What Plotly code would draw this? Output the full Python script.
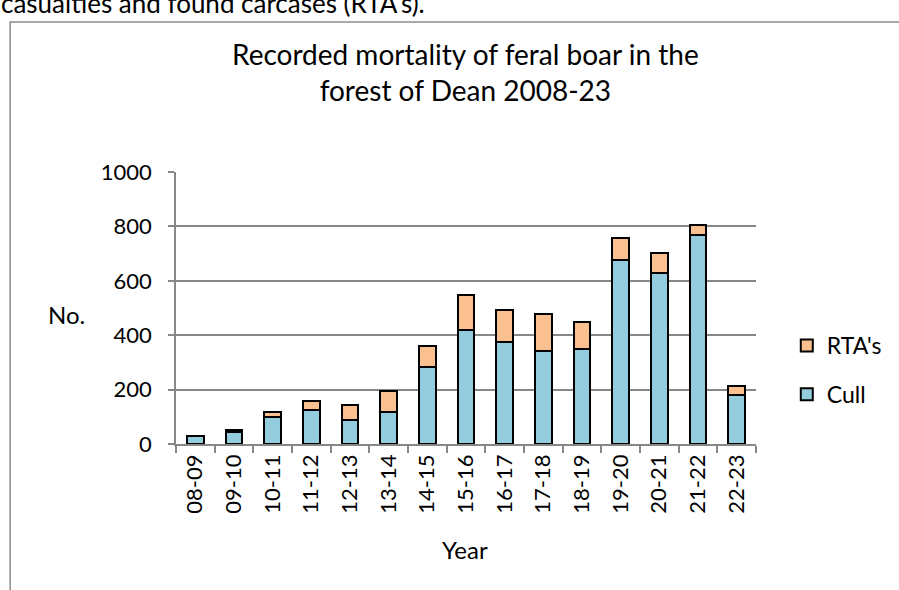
import plotly.graph_objects as go

# Season labels and recorded counts
years = ["08-09", "09-10", "10-11", "11-12", "12-13", "13-14", "14-15", "15-16",
         "16-17", "17-18", "18-19", "19-20", "20-21", "21-22", "22-23"]
cull = [28, 44, 98, 126, 87, 119, 283, 420, 375, 341, 351, 675, 630, 767, 179]
rtas = [3, 9, 18, 31, 55, 77, 79, 128, 117, 136, 99, 82, 72, 37, 34]

y_ticks = [0, 200, 400, 600, 800, 1000]

W, H = 899, 590
L, R, T, B = 176, 760, 172, 444  # plot area in pixels
FONT = "Lato, Carlito, Calibri, sans-serif"


def px(x):
    return (x - L) / (R - L)


def py(y):
    return (B - y) / (B - T)


fig = go.Figure()
fig.add_trace(go.Bar(
    x=years, y=cull, name="Cull",
    marker=dict(color="#93CDDD", line=dict(color="black", width=2)),
    legendgroup="cull", legendrank=2,
))
fig.add_trace(go.Bar(
    x=years, y=rtas, name="RTA's",
    marker=dict(color="#FAC090", line=dict(color="black", width=2)),
    legendgroup="rta", legendrank=1,
))

fig.update_layout(
    width=W, height=H,
    margin=dict(l=L, r=W - R, t=T, b=H - B),
    barmode="stack", bargap=0.57,
    paper_bgcolor="white", plot_bgcolor="white",
    font=dict(family=FONT, color="black", size=22),
    showlegend=True,
    legend=dict(
        x=px(791), y=py(324), xanchor="left", yanchor="top",
        traceorder="grouped", tracegroupgap=16,
        font=dict(size=23), bgcolor="rgba(0,0,0,0)",
        itemwidth=30,
    ),
    xaxis=dict(
        type="category", tickangle=-90, tickson="boundaries",
        ticks="outside", ticklen=7, tickcolor="#878787", tickwidth=1.5,
        showline=True, linecolor="#878787", linewidth=1.5,
        showgrid=False, tickfont=dict(size=22),
    ),
    yaxis=dict(
        range=[0, 1000], tickvals=y_ticks, ticks="outside", ticklen=6,
        tickcolor="#878787", tickwidth=1.5, ticklabelstandoff=12,
        showline=True, linecolor="#878787", linewidth=1.5,
        showgrid=True, gridcolor="#878787", gridwidth=1.5,
        zeroline=False, tickfont=dict(size=22),
    ),
    shapes=[
        dict(type="rect", xref="paper", yref="paper",
             x0=px(9), x1=px(905), y0=py(600), y1=py(22),
             line=dict(color="#8c8c8c", width=1.5), layer="below"),
    ],
    annotations=[
        dict(text="casualties and found carcases (RTA's).", xref="paper", yref="paper",
             x=px(-2), y=py(21), xanchor="left", yanchor="bottom",
             showarrow=False, font=dict(size=26, family=FONT)),
        dict(text="Recorded mortality of feral boar in the<br>forest of Dean 2008-23",
             xref="paper", yref="paper", x=px(467), y=py(72),
             xanchor="center", yanchor="middle", showarrow=False,
             font=dict(size=28, family=FONT)),
        dict(text="No.", xref="paper", yref="paper", x=px(66), y=py(314),
             xanchor="center", yanchor="middle", showarrow=False,
             font=dict(size=24)),
        dict(text="Year", xref="paper", yref="paper", x=px(467), y=py(549),
             xanchor="center", yanchor="middle", showarrow=False,
             font=dict(size=24)),
    ],
)

fig.write_html("out.html")
